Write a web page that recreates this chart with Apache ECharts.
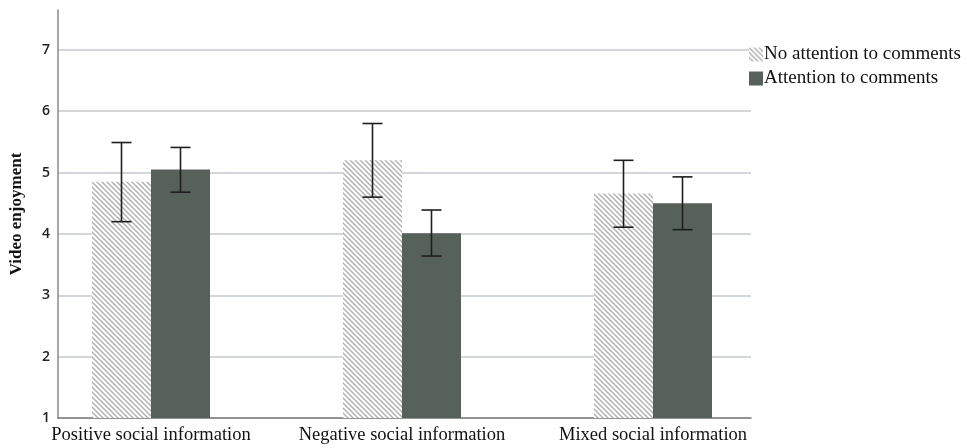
<!DOCTYPE html>
<html>
<head>
<meta charset="utf-8">
<script src="https://cdn.jsdelivr.net/npm/echarts@6/dist/echarts.min.js"></script>
<style>
html,body{margin:0;padding:0;background:#fff;}
#chart{width:967px;height:448px;}
</style>
</head>
<body>
<div id="chart"></div>
<script>
// data
var categories = ['Positive social information', 'Negative social information', 'Mixed social information'];
var noAttnMean = [4.85, 5.20, 4.66];
var noAttnLow  = [4.20, 4.60, 4.11];
var noAttnHigh = [5.49, 5.80, 5.20];
var attnMean = [5.05, 4.01, 4.50];
var attnLow  = [4.68, 3.64, 4.07];
var attnHigh = [5.41, 4.39, 4.93];
var seriesNames = ['No attention to comments', 'Attention to comments'];

var serif = '"Liberation Serif", "Times New Roman", serif';
var barW = 59;

// hatch pattern for the "no attention" bars (lines going down to the right)
function makeHatch(){
	var s = 5;
	var c = document.createElement('canvas');
	c.width = s; c.height = s;
	var ctx = c.getContext('2d');
	ctx.fillStyle = '#ffffff';
	ctx.fillRect(0, 0, s, s);
	ctx.strokeStyle = '#b2b2b2';
	ctx.lineWidth = 1.5;
	ctx.beginPath();
	ctx.moveTo(0, 0); ctx.lineTo(s, s);
	ctx.moveTo(-1, s - 1); ctx.lineTo(1, s + 1);
	ctx.moveTo(s - 1, -1); ctx.lineTo(s + 1, 1);
	ctx.stroke();
	return c;
}
var hatch = {image: makeHatch(), repeat: 'repeat'};

function errData(low, high){
	var arr = [];
	for(var i = 0; i < low.length; i++){
		arr.push([i, low[i], high[i]]);
	}
	return arr;
}

function errRenderer(offset){
	return function(params, api){
		var x = api.value(0);
		var lo = api.coord([x, api.value(1)]);
		var hi = api.coord([x, api.value(2)]);
		var cx = lo[0] + offset;
		var half = 10;
		var style = {stroke: '#1e1e1e', lineWidth: 1.6};
		return {
			type: 'group',
			children: [
				{type: 'line', shape: {x1: cx, y1: hi[1], x2: cx, y2: lo[1]}, style: style},
				{type: 'line', shape: {x1: cx - half, y1: hi[1], x2: cx + half, y2: hi[1]}, style: style},
				{type: 'line', shape: {x1: cx - half, y1: lo[1], x2: cx + half, y2: lo[1]}, style: style}
			]
		};
	};
}

var chart = echarts.init(document.getElementById('chart'));
var option = {
	animation: false,
	backgroundColor: '#ffffff',
	grid: [
		{left: 58, right: 216, top: 10, bottom: 30},
		{left: 25.5, right: 188.5, top: 10, bottom: 30}
	],
	legend: {
		orient: 'vertical',
		left: 749,
		top: 45,
		padding: 0,
		itemWidth: 14,
		itemHeight: 14,
		itemGap: 5,
		icon: 'rect',
		selectedMode: false,
		data: seriesNames,
		textStyle: {fontFamily: serif, fontSize: 19, lineHeight: 14, color: '#111', padding: [0, 0, 0, -4]}
	},
	xAxis: [
		{
			gridIndex: 0,
			type: 'category',
			data: [''],
			axisLine: {show: true, lineStyle: {color: '#707070', width: 1.5}},
			axisTick: {show: false},
			axisLabel: {show: false}
		},
		{
			gridIndex: 1,
			type: 'category',
			data: categories,
			axisLine: {show: false},
			axisTick: {show: false},
			axisLabel: {interval: 0, hideOverlap: false, fontFamily: serif, fontSize: 18.5, color: '#111', margin: 8}
		}
	],
	yAxis: [
		{
			gridIndex: 0,
			type: 'value',
			min: 1,
			max: 7.65,
			interval: 1,
			name: 'Video enjoyment',
			nameLocation: 'middle',
			nameGap: 33,
			nameTextStyle: {fontFamily: serif, fontSize: 17, fontWeight: 'bold', color: '#111'},
			axisLine: {show: true, lineStyle: {color: '#8a8a8a', width: 1.5}},
			axisTick: {show: false},
			axisLabel: {
				showMaxLabel: false,
				fontFamily: '"Open Sans", "DejaVu Sans", sans-serif',
				fontSize: 14,
				fontWeight: 600,
				color: '#222',
				margin: 8,
				padding: [5, 0, 0, 0],
				formatter: function(v){ return Math.round(v) === v ? String(v) : ''; }
			},
			splitLine: {show: true, showMinLine: false, showMaxLine: false, lineStyle: {color: '#c6cacd', width: 1.6}}
		},
		{
			gridIndex: 1,
			type: 'value',
			min: 1,
			max: 7.65,
			interval: 1,
			show: false,
			splitLine: {show: false}
		}
	],
	series: [
		{
			name: seriesNames[0],
			type: 'bar',
			xAxisIndex: 1,
			yAxisIndex: 1,
			barWidth: barW,
			barGap: '0%',
			itemStyle: {color: hatch},
			data: noAttnMean
		},
		{
			name: seriesNames[1],
			type: 'bar',
			xAxisIndex: 1,
			yAxisIndex: 1,
			barWidth: barW,
			barGap: '0%',
			itemStyle: {color: '#556159'},
			data: attnMean
		},
		{
			type: 'custom',
			xAxisIndex: 1,
			yAxisIndex: 1,
			renderItem: errRenderer(-barW / 2),
			encode: {x: 0, y: [1, 2]},
			data: errData(noAttnLow, noAttnHigh),
			z: 5
		},
		{
			type: 'custom',
			xAxisIndex: 1,
			yAxisIndex: 1,
			renderItem: errRenderer(barW / 2),
			encode: {x: 0, y: [1, 2]},
			data: errData(attnLow, attnHigh),
			z: 5
		}
	]
};
chart.setOption(option);
</script>
</body>
</html>
